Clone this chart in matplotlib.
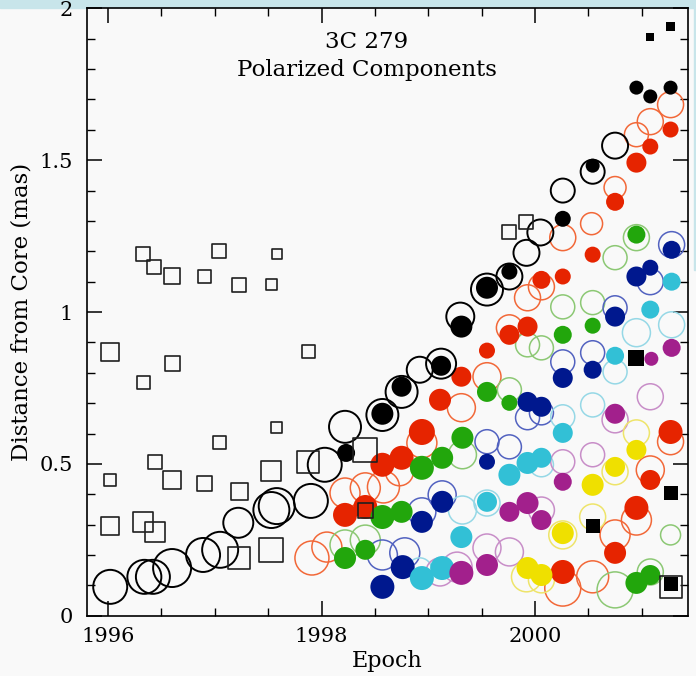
import matplotlib
matplotlib.use("Agg")
import matplotlib.pyplot as plt
from matplotlib.patches import Rectangle
from matplotlib.ticker import MultipleLocator

# epoch (yr), distance from core (mas), marker size (relative radius)
# --- black open squares
bsq_t = [1996.02, 1996.33, 1996.43, 1996.60, 1996.90, 1997.04, 1997.23, 1997.58, 1997.53, 1997.88,
         1997.58, 1996.33, 1996.60, 1997.04, 1996.02, 1996.44, 1996.60, 1996.90, 1997.23, 1996.02,
         1996.33, 1996.44, 1997.23, 1997.53, 1997.53, 1997.87, 1998.41, 1998.41, 1999.76, 1999.92,
         2001.27]
bsq_d = [0.869, 1.192, 1.149, 1.120, 1.117, 1.202, 1.090, 1.192, 1.090, 0.869,
         0.619, 0.767, 0.830, 0.569, 0.447, 0.507, 0.447, 0.437, 0.408, 0.296,
         0.309, 0.276, 0.190, 0.217, 0.477, 0.507, 0.546, 0.348, 1.262, 1.297,
         0.095]
bsq_s = [18, 14, 14, 16, 13, 14, 14, 10, 11, 13,
         11, 13, 15, 13, 12, 14, 18, 15, 17, 18,
         20, 20, 22, 24, 20, 22, 24, 15, 14, 14,
         22]

# --- black filled squares
bsqf_t = [2001.08, 2001.27, 2000.95, 2001.27, 2000.54, 2001.27]
bsqf_d = [1.907, 1.940, 0.849, 0.404, 0.296, 0.104]
bsqf_s = [8, 9, 16, 14, 14, 14]

# --- black circles
bko_t = [1996.02, 1996.34, 1996.42, 1996.60, 1996.89, 1997.05, 1997.22, 1997.53, 1997.58, 1997.90,
         1998.03, 1998.22, 1998.57, 1998.75, 1998.92, 1999.12, 1999.30, 1999.55, 1999.76, 1999.92,
         2000.05, 2000.26, 2000.54, 2000.75]
bko_d = [0.095, 0.128, 0.128, 0.157, 0.200, 0.217, 0.306, 0.348, 0.361, 0.378,
         0.497, 0.622, 0.661, 0.737, 0.810, 0.830, 0.985, 1.074, 1.117, 1.195,
         1.262, 1.400, 1.462, 1.548]
bko_r = [17, 17, 17, 19, 17, 18, 15, 18, 18, 17,
         17, 16, 16, 16, 13, 15, 14, 16, 13, 13,
         13, 12, 12, 13]

bkf_t = [1998.23, 1998.57, 1998.75, 1999.12, 1999.31, 1999.55, 1999.76, 2000.26, 2000.54, 2000.95,
         2001.08, 2001.27]
bkf_d = [0.536, 0.665, 0.754, 0.823, 0.952, 1.080, 1.133, 1.307, 1.482, 1.739,
         1.710, 1.739]
bkf_r = [9, 11, 10, 10, 11, 11, 8, 8, 7, 7, 7, 7]

# --- red
red_t = [1998.22, 1998.41, 1998.57, 1998.75, 1998.94, 1999.11, 1999.31, 1999.55, 1999.76, 1999.93,
         2000.06, 2000.26, 2000.54, 2000.75, 2000.95, 2001.08, 2001.27, 2000.26, 2000.75, 2000.95,
         2001.08, 2001.27]
red_d = [0.332, 0.358, 0.497, 0.520, 0.605, 0.711, 0.787, 0.873, 0.925, 0.952,
         1.106, 1.117, 1.189, 1.363, 1.492, 1.545, 1.601, 0.144, 0.207, 0.355,
         0.447, 0.605]
red_r = [12, 12, 12, 12, 13, 11, 10, 8, 10, 10,
         9, 8, 8, 9, 10, 8, 8, 12, 11, 12,
         10, 12]

redo_t = [1997.91, 1998.05, 1998.22, 1998.41, 1998.58, 1998.73, 1998.94, 1999.31, 1999.55, 1999.76,
          1999.93, 2000.06, 2000.26, 2000.53, 2000.75, 2000.95, 2001.08, 2001.27, 2000.26, 2000.54,
          2000.75, 2000.95, 2001.08, 2001.27]
redo_d = [0.190, 0.226, 0.404, 0.421, 0.424, 0.474, 0.569, 0.685, 0.787, 0.948,
          1.047, 1.083, 1.245, 1.291, 1.410, 1.584, 1.627, 1.683, 0.091, 0.128,
          0.266, 0.315, 0.480, 0.573]
redo_r = [17, 15, 15, 15, 16, 14, 15, 14, 14, 13,
          13, 13, 13, 11, 11, 12, 13, 13, 18, 16,
          15, 15, 14, 13]

# --- green
grn_t = [1998.22, 1998.41, 1998.57, 1998.75, 1998.94, 1999.13, 1999.32, 1999.55, 1999.76, 2000.26,
         2000.54, 2000.95, 2000.95, 2001.08]
grn_d = [0.190, 0.217, 0.325, 0.342, 0.487, 0.520, 0.586, 0.737, 0.701, 0.925,
         0.955, 1.255, 0.108, 0.134]
grn_r = [11, 10, 12, 11, 12, 11, 11, 10, 8, 9,
         8, 9, 11, 10]

grno_t = [1998.22, 1998.41, 1999.32, 1999.76, 1999.93, 2000.06, 2000.26, 2000.54, 2000.75, 2000.95,
          2000.75, 2001.08, 2001.27]
grno_d = [0.233, 0.249, 0.530, 0.744, 0.892, 0.882, 1.017, 1.031, 1.179, 1.245,
          0.085, 0.144, 0.266]
grno_r = [15, 15, 14, 12, 12, 12, 12, 12, 12, 13,
          18, 13, 10]

# --- blue
blu_t = [1998.57, 1998.76, 1998.94, 1999.13, 1999.55, 1999.93, 2000.06, 2000.26, 2000.54, 2000.75,
         2000.95, 2001.08, 2001.28]
blu_d = [0.095, 0.160, 0.309, 0.375, 0.507, 0.704, 0.688, 0.783, 0.810, 0.985,
         1.117, 1.146, 1.205]
blu_r = [12, 12, 11, 11, 8, 10, 10, 10, 9, 10,
         10, 8, 9]

bluo_t = [1998.57, 1998.78, 1998.94, 1999.13, 1999.55, 1999.76, 1999.93, 2000.06, 2000.26, 2000.54,
          2000.75, 2001.08, 2001.28]
bluo_d = [0.200, 0.207, 0.342, 0.398, 0.573, 0.556, 0.652, 0.668, 0.836, 0.866,
          1.014, 1.100, 1.222]
bluo_r = [15, 15, 14, 14, 12, 12, 12, 12, 12, 12,
          12, 13, 13]

# --- cyan
cyn_t = [1998.94, 1999.13, 1999.31, 1999.55, 1999.76, 1999.93, 2000.06, 2000.26, 2000.75, 2001.08,
         2001.28]
cyn_d = [0.124, 0.157, 0.259, 0.375, 0.464, 0.503, 0.520, 0.602, 0.856, 1.008,
         1.100]
cyn_r = [12, 12, 11, 10, 11, 11, 10, 10, 9, 9,
         9]

cyno_t = [1998.92, 1999.32, 1999.55, 2000.06, 2000.26, 2000.54, 2000.75, 2000.95, 2001.28]
cyno_d = [0.151, 0.348, 0.371, 0.497, 0.655, 0.694, 0.803, 0.932, 0.958]
cyno_r = [12, 14, 13, 12, 12, 12, 12, 14, 13]

# --- magenta
mag_t = [1999.31, 1999.55, 1999.76, 1999.93, 2000.06, 2000.26, 2000.75, 2001.09, 2001.28]
mag_d = [0.141, 0.167, 0.342, 0.371, 0.315, 0.441, 0.665, 0.846, 0.882]
mag_r = [12, 11, 10, 11, 10, 9, 10, 7, 9]

mago_t = [1999.11, 1999.27, 1999.55, 1999.76, 2000.06, 2000.26, 2000.54, 2000.75, 2001.08]
mago_d = [0.144, 0.160, 0.223, 0.210, 0.348, 0.507, 0.530, 0.645, 0.721]
mago_r = [14, 15, 14, 14, 13, 12, 12, 13, 13]

# --- yellow
yel_t = [1999.93, 2000.06, 2000.26, 2000.54, 2000.75, 2000.95]
yel_d = [0.157, 0.134, 0.272, 0.431, 0.490, 0.546]
yel_r = [11, 11, 11, 11, 10, 10]

yelo_t = [1999.92, 2000.06, 2000.26, 2000.54, 2000.75, 2000.95]
yelo_d = [0.128, 0.118, 0.266, 0.325, 0.474, 0.602]
yelo_r = [15, 13, 14, 13, 13, 13]

PX = 0.72  # points per pixel at dpi 100


def circ(r):
    return [(2 * v * PX) ** 2 for v in r]


def sq(s):
    return [(v * PX) ** 2 for v in s]


plt.rcParams["font.family"] = ["DejaVu Serif"]
bg = "#f9f9f9"
fig = plt.figure(figsize=(6.96, 6.76), dpi=100, facecolor=bg)
ax = fig.add_axes([0.1246, 0.0892, 0.8634, 0.8984], facecolor=bg)

ring = dict(facecolors="none", linewidths=1.1, zorder=2)
dot = dict(edgecolors="none", zorder=3)

ax.scatter(redo_t, redo_d, s=circ(redo_r), edgecolors="#f26838", **ring)
ax.scatter(grno_t, grno_d, s=circ(grno_r), edgecolors="#8cc874", **ring)
ax.scatter(bluo_t, bluo_d, s=circ(bluo_r), edgecolors="#5262c0", **ring)
ax.scatter(cyno_t, cyno_d, s=circ(cyno_r), edgecolors="#96d8e6", **ring)
ax.scatter(mago_t, mago_d, s=circ(mago_r), edgecolors="#c88ec8", **ring)
ax.scatter(yelo_t, yelo_d, s=circ(yelo_r), edgecolors="#eee46a", **ring)

ax.scatter(red_t, red_d, s=circ(red_r), c="#e62400", **dot)
ax.scatter(grn_t, grn_d, s=circ(grn_r), c="#22a60c", **dot)
ax.scatter(blu_t, blu_d, s=circ(blu_r), c="#00188e", **dot)
ax.scatter(cyn_t, cyn_d, s=circ(cyn_r), c="#32c0d6", **dot)
ax.scatter(mag_t, mag_d, s=circ(mag_r), c="#a2208c", **dot)
ax.scatter(yel_t, yel_d, s=circ(yel_r), c="#efe000", **dot)

ax.scatter(bko_t, bko_d, s=circ(bko_r), facecolors="none", edgecolors="black",
           linewidths=1.4, zorder=4)
ax.scatter(bkf_t, bkf_d, s=circ(bkf_r), c="black", edgecolors="none", zorder=5)
ax.scatter(bsq_t, bsq_d, s=sq(bsq_s), marker="s", facecolors="none",
           edgecolors="#202020", linewidths=1.2, zorder=6)
ax.scatter(bsqf_t, bsqf_d, s=sq(bsqf_s), marker="s", c="black", edgecolors="none", zorder=7)

ax.set_xlim(1995.8, 2001.43)
ax.set_ylim(0, 2)
ax.xaxis.set_major_locator(MultipleLocator(2))
ax.xaxis.set_minor_locator(MultipleLocator(0.5))
ax.yaxis.set_major_locator(MultipleLocator(0.5))
ax.yaxis.set_minor_locator(MultipleLocator(0.1))
ax.set_yticks([0, 0.5, 1, 1.5, 2])
ax.set_yticklabels(["0", "0.5", "1", "1.5", "2"])
ax.tick_params(which="major", direction="in", length=10.5, width=1.1,
               top=True, right=True, labelsize=15, pad=8)
ax.tick_params(which="minor", direction="in", length=5.5, width=1.0,
               top=True, right=True)
ax.tick_params(axis="y", pad=10)
for sp in ax.spines.values():
    sp.set_linewidth(1.2)

ax.set_xlabel("Epoch", fontsize=16, labelpad=3)
ax.set_ylabel("Distance from Core (mas)", fontsize=16.5, labelpad=5)
ax.text(0.466, 0.945, "3C 279", transform=ax.transAxes, ha="center", va="center", fontsize=16.5)
ax.text(0.466, 0.899, "Polarized Components", transform=ax.transAxes, ha="center",
        va="center", fontsize=16.5)

# light frame band of the original image
fig.add_artist(Rectangle((0, 1 - 8 / 676), 1, 8 / 676, transform=fig.transFigure,
                         color="#c8e5ea", zorder=-1))
fig.add_artist(Rectangle((1 - 2 / 696, 0.6), 2 / 696, 0.4, transform=fig.transFigure,
                         color="#c8e5ea", zorder=-1))

fig.savefig("out.png", dpi=100, facecolor=bg)
